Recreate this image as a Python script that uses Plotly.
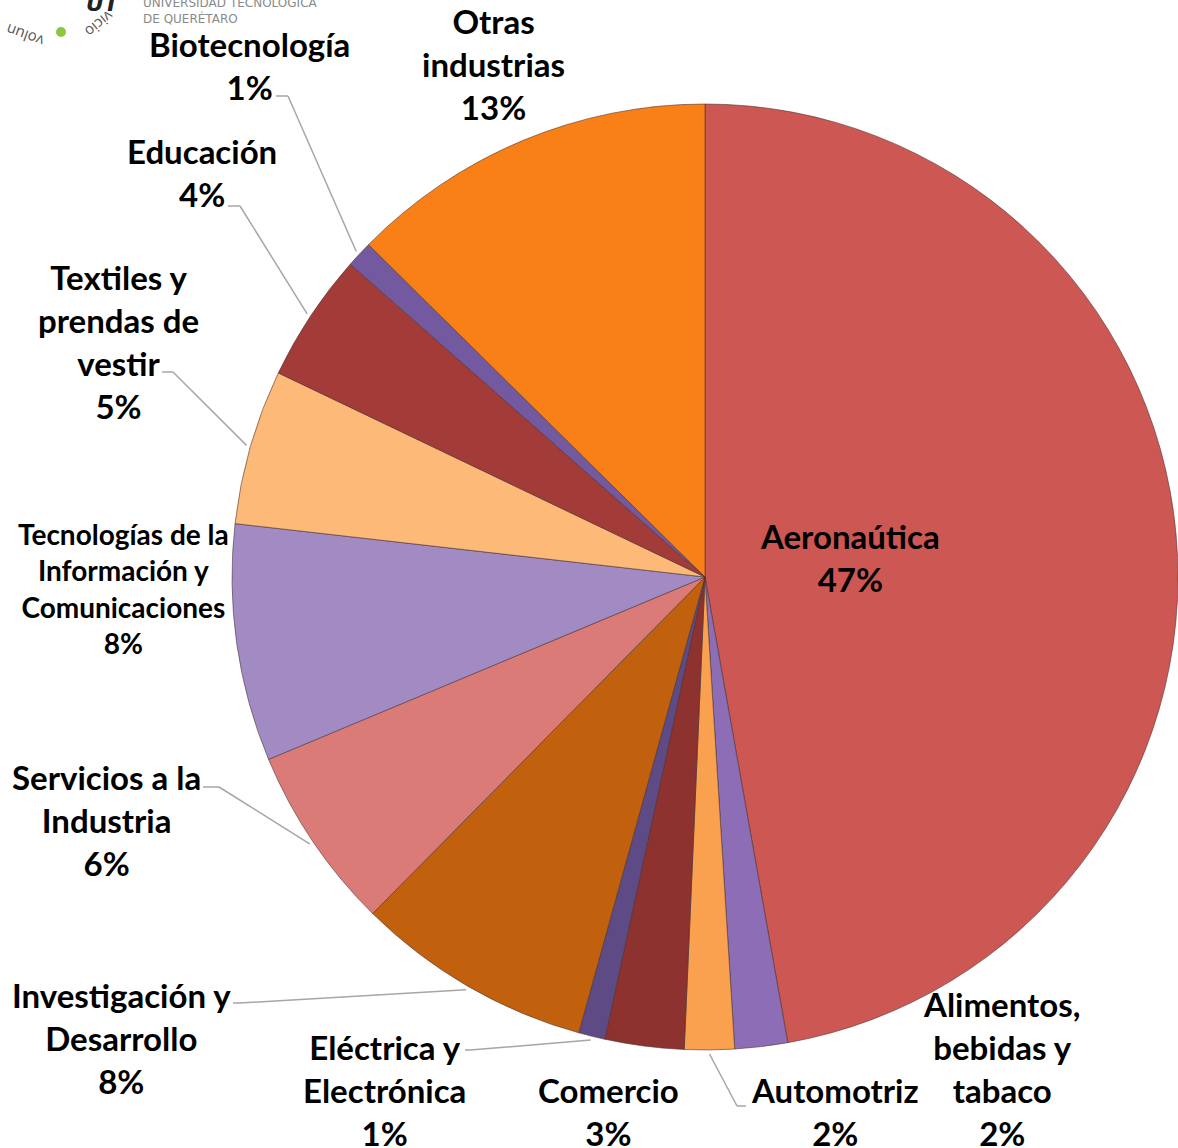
import math
import plotly.graph_objects as go

# ---- data ----
categories = [
    "Aeronaútica", "Alimentos, bebidas y tabaco", "Automotriz", "Comercio",
    "Eléctrica y Electrónica", "Investigación y Desarrollo",
    "Servicios a la Industria",
    "Tecnologías de la Información y Comunicaciones",
    "Textiles y prendas de vestir", "Educación", "Biotecnología",
    "Otras industrias",
]
shares = [47.2, 1.8, 1.7, 2.7, 0.9, 8.1, 6.3, 8.1, 5.3, 4.4, 0.9, 12.6]
label_lines = [
    "Aeronaútica", "Alimentos,<br>bebidas y<br>tabaco", "Automotriz", "Comercio",
    "Eléctrica y<br>Electrónica", "Investigación y<br>Desarrollo",
    "Servicios a la<br>Industria",
    "Tecnologías de la<br>Información y<br>Comunicaciones",
    "Textiles y<br>prendas de<br>vestir", "Educación", "Biotecnología",
    "Otras<br>industrias",
]
colors = ["#CD5753", "#8D6DB5", "#F9A14E", "#8E3230", "#5E4B85", "#C1610E",
          "#DA7B78", "#A18BC2", "#FCB977", "#A33B38", "#735AA0", "#F97F17"]

W, H = 1178, 1148
# pie geometry (pixels)
R = 473.0
cx, cy = W - R, 577.0

fig = go.Figure(go.Pie(
    labels=categories, values=shares, sort=False, direction="clockwise",
    rotation=0, textinfo="none", hoverinfo="label+percent",
    marker=dict(colors=colors, line=dict(color="rgba(70,45,45,0.55)", width=1)),
    domain=dict(x=[(cx - R) / W, 1.0],
                y=[(H - cy - R) / H, (H - cy + R) / H]),
    showlegend=False,
))

total = sum(shares)
pcts = [round(v / total * 100) for v in shares]

# label placement (pixel centres)
label_pos = {
    0: (850, 557.5), 1: (1001, 1068), 2: (835, 1111.5), 3: (608, 1111.5),
    4: (385, 1090), 5: (121, 1038), 6: (106, 819.5), 7: (123, 589),
    8: (118, 341.5), 9: (202, 172.5), 10: (249, 65.5), 11: (493, 64),
}
# leader line: start point near label, elbow point (pixels)
leaders = {
    10: [(276, 96), (288, 96)],
    9: [(228, 206), (240, 206)],
    8: [(162, 372), (173, 372)],
    6: [(203, 787), (219, 787)],
    5: [(233, 1003), (240, 1003)],
    4: [(465, 1050), (470, 1050)],
    2: [(746, 1106), (737, 1106)],
}

def px(x):
    return x / W

def py(y):
    return 1 - y / H

cum = 0.0
mids = []
for v in shares:
    mids.append((cum + v / 2) / total * 2 * math.pi)
    cum += v

shapes = []
for i, pts in leaders.items():
    th = mids[i]
    ax_ = cx + (R + 4) * math.sin(th)
    ay_ = cy - (R + 4) * math.cos(th)
    path_pts = pts + [(ax_, ay_)]
    for (x0, y0), (x1, y1) in zip(path_pts[:-1], path_pts[1:]):
        shapes.append(dict(type="line", xref="paper", yref="paper",
                           x0=px(x0), y0=py(y0), x1=px(x1), y1=py(y1),
                           line=dict(color="#A6A6A6", width=1.5)))

annotations = []
for i, (lx, ly) in label_pos.items():
    size = 28 if i == 7 else 33
    annotations.append(dict(
        x=px(lx), y=py(ly), xref="paper", yref="paper", showarrow=False,
        xanchor="center", yanchor="middle", align="center",
        text=f"{label_lines[i]}<br>{pcts[i]}%",
        font=dict(family="Lato", size=size, color="black", weight="bold"),
    ))

# logo fragments (top-left)
annotations += [
    dict(x=px(141), y=py(10), xref="paper", yref="paper", showarrow=False,
         xanchor="left", yanchor="middle", align="left",
         text="UNIVERSIDAD TECNOLÓGICA<br>DE QUERÉTARO",
         font=dict(family="DejaVu Sans", size=12, color="#8A8A8A")),
    dict(x=px(25), y=py(36), xref="paper", yref="paper", showarrow=False,
         xanchor="center", yanchor="middle", text="volun", textangle=200,
         font=dict(family="Open Sans", size=15, color="#555555")),
    dict(x=px(100), y=py(24), xref="paper", yref="paper", showarrow=False,
         xanchor="center", yanchor="middle", text="vicio", textangle=140,
         font=dict(family="Open Sans", size=15, color="#555555")),
    dict(x=px(103), y=py(3), xref="paper", yref="paper", showarrow=False,
         xanchor="center", yanchor="middle", text="<i>UT</i>",
         font=dict(family="DejaVu Sans", size=22, color="#222222", weight="bold")),
]
shapes.append(dict(type="circle", xref="paper", yref="paper",
                   x0=px(56), y0=py(37), x1=px(66), y1=py(27),
                   fillcolor="#8DC63F", line=dict(width=0)))

fig.update_layout(
    width=W, height=H, autosize=False,
    margin=dict(l=0, r=0, t=0, b=0),
    paper_bgcolor="white", plot_bgcolor="white",
    shapes=shapes, annotations=annotations,
)

fig.write_html("out.html", config={"displayModeBar": False},
               post_script="document.body.style.margin='0';"
                           "document.body.style.overflow='hidden';")
